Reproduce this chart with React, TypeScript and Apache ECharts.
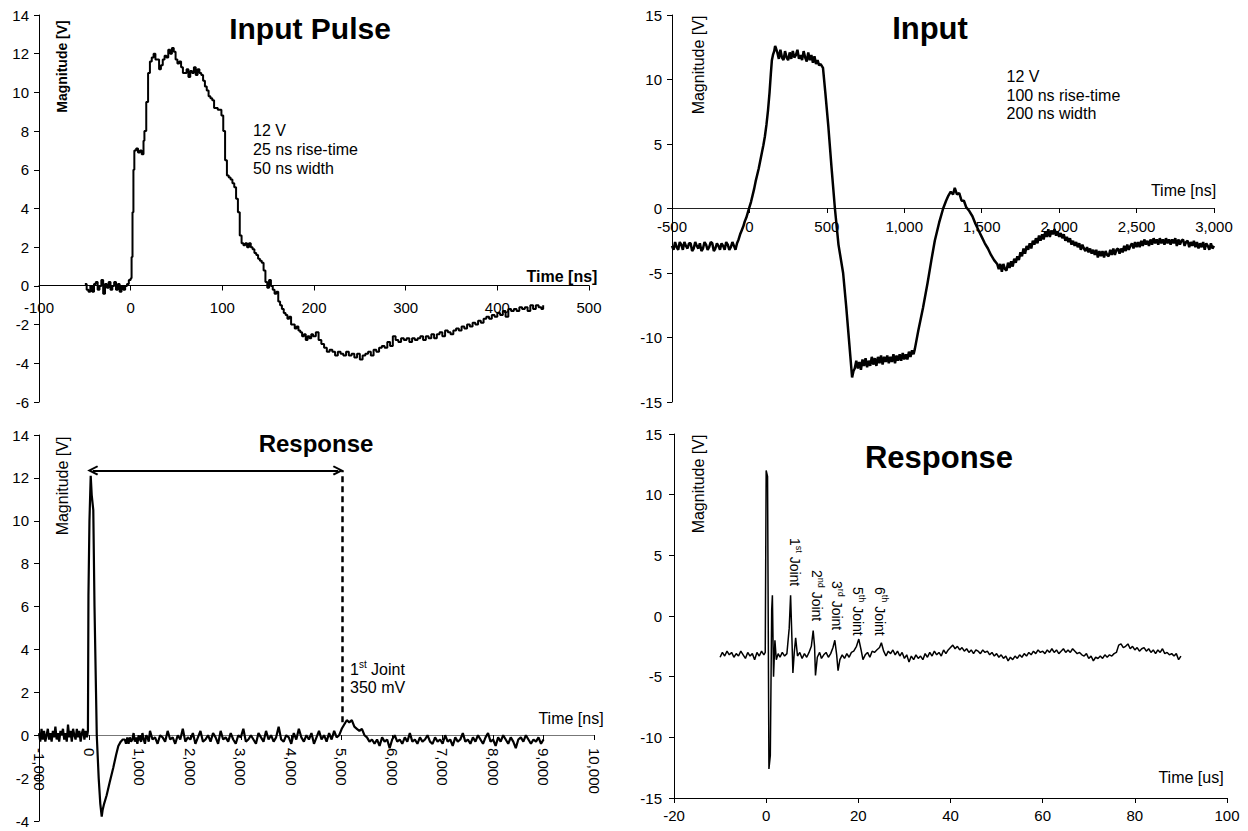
import React, { useEffect, useRef } from "react";
import * as echarts from "echarts";

const FONT = "'Liberation Sans', Arial, Helvetica, sans-serif";

// ---------- Panel 1: Input Pulse (ns, V) ----------
const pulseData: [number, number][] = [
  [-50, 0.1], [-48, -0.2], [-46, -0.3], [-44, 0.0], [-42, -0.3], [-40, 0.1], [-38, 0.2], [-36, -0.2], [-34, 0.0], [-32, 0.3],
  [-30, -0.4], [-28, 0.1], [-26, -0.1], [-24, 0.2], [-22, -0.2], [-20, 0.0], [-18, 0.2], [-16, -0.2], [-14, 0.1], [-12, -0.3],
  [-10, 0.0], [-8, -0.2], [-6, 0.0], [-4, 0.1], [-2, 0.3], [0, 0.4], [1, 1.5], [2, 3.8], [3, 6.0], [4, 7.0], [6, 7.1], [8, 6.9],
  [10, 7.0], [12, 6.8], [14, 7.5], [15, 8.0], [17, 9.5], [19, 11.0], [21, 11.6], [23, 11.8], [25, 12.0], [27, 11.7], [29, 11.7],
  [31, 11.2], [33, 11.4], [35, 11.7], [37, 11.9], [39, 11.8], [41, 12.2], [43, 12.0], [45, 12.3], [47, 12.1], [49, 11.7],
  [51, 11.5], [53, 11.6], [55, 11.3], [57, 11.0], [59, 11.0], [61, 11.2], [63, 10.8], [65, 11.1], [67, 11.0], [69, 11.3],
  [71, 10.9], [73, 11.2], [75, 11.0], [77, 10.9], [79, 10.6], [81, 10.3], [83, 10.1], [85, 9.8], [87, 9.7], [89, 9.6],
  [91, 9.2], [93, 9.2], [95, 9.1], [97, 9.1], [99, 8.8], [101, 8.0], [103, 6.5], [105, 5.7], [107, 5.6], [109, 5.5],
  [111, 5.3], [113, 5.1], [115, 4.5], [117, 3.8], [119, 2.6], [121, 2.2], [123, 2.1], [125, 2.2], [127, 2.0], [129, 2.2],
  [131, 2.0], [133, 1.9], [135, 1.7], [137, 1.6], [139, 1.4], [141, 1.3], [143, 1.2], [145, 0.8], [147, 0.2], [149, -0.1],
  [151, 0.3], [153, 0.0], [155, -0.2], [157, -0.4], [159, -0.3], [161, -0.8], [163, -1.0], [165, -1.2], [167, -1.4],
  [169, -1.5], [171, -1.7], [173, -1.6], [175, -2.0], [177, -2.0], [179, -2.2], [181, -2.1], [183, -2.3], [185, -2.4],
  [187, -2.6], [189, -2.5], [191, -2.8], [193, -2.6], [195, -2.7], [197, -2.5], [199, -2.6], [202, -2.4], [205, -2.8],
  [208, -3.0], [211, -3.2], [214, -3.4], [217, -3.3], [220, -3.4], [223, -3.6], [226, -3.4], [229, -3.5], [232, -3.6],
  [235, -3.4], [238, -3.6], [241, -3.5], [244, -3.7], [247, -3.5], [250, -3.8], [253, -3.6], [256, -3.5], [259, -3.4],
  [262, -3.6], [265, -3.3], [268, -3.4], [271, -3.2], [274, -3.1], [277, -3.2], [280, -2.9], [283, -3.1], [286, -2.6],
  [289, -2.8], [292, -2.9], [295, -2.7], [298, -2.8], [301, -2.7], [304, -2.9], [307, -2.7], [310, -2.8], [313, -2.7],
  [316, -2.6], [319, -2.8], [322, -2.6], [325, -2.7], [328, -2.5], [331, -2.7], [334, -2.5], [337, -2.4], [340, -2.6],
  [343, -2.3], [346, -2.4], [349, -2.5], [352, -2.3], [355, -2.2], [358, -2.3], [361, -2.1], [364, -2.2], [367, -2.0],
  [370, -2.1], [373, -1.9], [376, -2.0], [379, -1.8], [382, -1.9], [385, -1.7], [388, -1.6], [391, -1.7], [394, -1.5],
  [397, -1.6], [400, -1.4], [403, -1.5], [406, -1.3], [409, -1.6], [412, -1.2], [415, -1.3], [418, -1.2], [421, -1.3],
  [424, -1.1], [427, -1.2], [430, -1.1], [433, -1.3], [436, -1.0], [439, -1.2], [442, -1.0], [445, -1.1], [448, -1.2], [450, -1.0],
];

// ---------- Panel 2: Input (ns, V) ----------
const inputData: [number, number][] = [
  [-500, -2.9], [-490, -3.2], [-480, -2.6], [-470, -3.0], [-460, -3.2], [-450, -2.6], [-440, -2.8], [-430, -3.2], [-420, -2.6],
  [-410, -2.9], [-400, -3.1], [-390, -2.7], [-380, -2.7], [-370, -3.3], [-360, -3.1], [-350, -2.6], [-340, -2.9], [-330, -3.1],
  [-320, -2.7], [-310, -3.3], [-300, -3.1], [-290, -2.6], [-280, -2.8], [-270, -3.2], [-260, -3.0], [-250, -2.6], [-240, -2.7],
  [-230, -3.3], [-220, -3.1], [-210, -2.7], [-200, -2.9], [-190, -3.2], [-180, -2.7], [-170, -2.9], [-160, -3.2], [-150, -2.6],
  [-140, -2.8], [-130, -3.2], [-120, -3.0], [-110, -2.6], [-100, -2.9], [-90, -3.2], [-80, -2.7], [-70, -2.4], [-60, -2.0],
  [-50, -1.7], [-40, -1.4], [-30, -1.0], [-20, -0.7], [-10, -0.3], [0, 0.1], [10, 0.5], [20, 1.0], [30, 1.5], [40, 2.1],
  [50, 2.6], [60, 3.1], [70, 3.7], [80, 4.3], [90, 4.9], [100, 5.6], [110, 6.5], [120, 7.6], [130, 9.0], [138, 10.4],
  [145, 11.5], [152, 11.9], [160, 12.2], [166, 12.6], [172, 12.4], [180, 12.1], [190, 11.6], [200, 12.3], [210, 11.7],
  [220, 11.5], [230, 12.2], [240, 11.7], [250, 11.5], [260, 12.1], [270, 11.6], [280, 12.2], [290, 11.7], [300, 11.9],
  [310, 12.3], [320, 11.6], [330, 11.9], [340, 11.5], [350, 12.2], [360, 11.7], [370, 11.4], [380, 12.1], [390, 11.5],
  [400, 11.9], [410, 11.3], [420, 11.8], [430, 11.2], [440, 11.5], [450, 11.1], [460, 11.2], [475, 10.9], [490, 9.0],
  [510, 6.3], [530, 3.2], [552, 0.0], [575, -2.8], [605, -5.0], [625, -7.6], [645, -10.5], [663, -13.1], [672, -12.6],
  [680, -12.4], [690, -11.8], [700, -12.4], [710, -11.9], [720, -12.5], [730, -11.7], [740, -12.2], [750, -11.6],
  [760, -12.3], [770, -11.8], [780, -12.2], [790, -11.5], [800, -12.1], [810, -11.6], [820, -12.2], [830, -11.5],
  [840, -12.0], [850, -11.4], [860, -12.1], [870, -11.5], [880, -11.9], [890, -11.4], [900, -12.0], [910, -11.5],
  [920, -11.9], [930, -11.3], [940, -12.0], [950, -11.4], [960, -11.8], [970, -11.3], [980, -11.8], [990, -11.2],
  [1000, -11.7], [1010, -11.3], [1020, -11.7], [1030, -11.1], [1040, -11.5], [1050, -11.0], [1060, -11.3], [1068, -10.9],
  [1090, -9.5], [1121, -7.7], [1150, -5.8], [1175, -4.0], [1197, -2.5], [1225, -1.1], [1251, 0.0], [1270, 0.6],
  [1285, 1.0], [1300, 1.3], [1315, 1.1], [1326, 1.6], [1340, 1.1], [1355, 1.2], [1370, 0.6], [1385, 0.6], [1400, 0.1],
  [1420, -0.2], [1440, -0.6], [1460, -1.2], [1480, -1.7], [1500, -2.2], [1520, -2.7], [1540, -3.1], [1560, -3.6],
  [1580, -4.0], [1600, -4.3], [1610, -4.7], [1620, -4.3], [1630, -4.9], [1640, -4.3], [1650, -4.7], [1660, -4.8],
  [1670, -4.2], [1680, -4.6], [1690, -4.1], [1700, -4.5], [1710, -3.9], [1720, -4.2], [1730, -3.7], [1740, -4.0],
  [1750, -3.4], [1760, -3.7], [1770, -3.1], [1780, -3.5], [1790, -2.9], [1800, -3.2], [1810, -2.7], [1820, -3.1],
  [1830, -2.5], [1840, -2.8], [1850, -2.3], [1860, -2.7], [1870, -2.1], [1880, -2.5], [1890, -2.0], [1900, -2.4],
  [1910, -1.8], [1920, -2.2], [1930, -1.6], [1940, -2.2], [1950, -1.7], [1960, -2.0], [1970, -1.6], [1980, -2.1],
  [1990, -1.8], [2000, -2.2], [2010, -1.9], [2020, -2.3], [2030, -2.0], [2040, -2.5], [2050, -2.2], [2060, -2.6],
  [2070, -2.3], [2080, -2.8], [2090, -2.5], [2100, -2.9], [2110, -2.6], [2120, -3.0], [2130, -2.7], [2140, -3.2],
  [2150, -2.8], [2160, -3.1], [2170, -3.3], [2180, -3.0], [2190, -3.4], [2200, -3.1], [2210, -3.5], [2220, -3.2],
  [2230, -3.6], [2240, -3.2], [2250, -3.8], [2260, -3.3], [2270, -3.7], [2280, -3.3], [2290, -3.8], [2300, -3.3],
  [2310, -3.6], [2320, -3.7], [2330, -3.2], [2340, -3.6], [2350, -3.1], [2360, -3.6], [2370, -3.2], [2380, -3.1],
  [2390, -3.5], [2400, -3.1], [2410, -3.4], [2420, -2.9], [2430, -3.3], [2440, -2.8], [2450, -3.2], [2460, -2.9],
  [2470, -2.7], [2480, -3.1], [2490, -2.6], [2500, -3.0], [2510, -2.6], [2520, -3.0], [2530, -2.5], [2540, -2.9],
  [2550, -2.4], [2560, -2.8], [2570, -2.5], [2580, -2.9], [2590, -2.4], [2600, -2.8], [2610, -2.3], [2620, -2.7],
  [2630, -2.4], [2640, -2.8], [2650, -2.3], [2660, -2.7], [2670, -2.4], [2680, -2.8], [2690, -2.3], [2700, -2.7],
  [2710, -2.4], [2720, -2.8], [2730, -2.4], [2740, -2.7], [2750, -2.3], [2760, -2.9], [2770, -2.4], [2780, -2.8],
  [2790, -2.5], [2800, -2.4], [2810, -2.9], [2820, -2.6], [2830, -2.5], [2840, -3.0], [2850, -2.6], [2860, -2.9],
  [2870, -2.5], [2880, -3.0], [2890, -2.6], [2900, -3.1], [2910, -2.7], [2920, -3.0], [2930, -2.6], [2940, -3.2],
  [2950, -2.7], [2960, -2.9], [2970, -3.2], [2980, -2.7], [2990, -3.1], [3000, -2.9],
];

// ---------- Panel 3: Response (ns, V) ----------
const responseNsData: [number, number][] = [
  [-1000, 0.1], [-975, -0.3], [-950, 0.3], [-925, -0.2], [-900, 0.2], [-875, -0.3], [-850, 0.0], [-825, 0.3], [-800, -0.2],
  [-775, 0.1], [-750, -0.3], [-725, 0.2], [-700, -0.1], [-675, 0.4], [-650, -0.2], [-625, 0.1], [-600, -0.3], [-575, 0.2],
  [-550, 0.0], [-525, 0.3], [-500, -0.2], [-475, 0.1], [-450, -0.3], [-425, 0.5], [-400, -0.1], [-375, 0.2], [-350, -0.3],
  [-325, 0.3], [-300, 0.0], [-275, -0.2], [-250, 0.3], [-225, -0.1], [-200, 0.2], [-175, -0.3], [-150, 0.1], [-125, 0.3],
  [-100, -0.2], [-75, 0.2], [-50, -0.1], [-30, 0.2], [-20, 6.5], [0, 10.0], [25, 12.1], [45, 11.2], [76, 10.5], [100, 6.0],
  [130, 2.0], [145, 0.0], [183, -2.0], [215, -3.2], [243, -3.8], [260, -3.5], [290, -3.2], [341, -2.8], [400, -2.2],
  [473, -1.5], [530, -0.9], [572, -0.5], [620, -0.3], [660, -0.2],
  [700, -0.2], [725, -0.4], [750, -0.1], [775, -0.4], [800, -0.1], [825, -0.3], [850, -0.2], [875, 0.1], [900, -0.3], [925, -0.1],
  [950, -0.4], [975, 0.0], [1000, -0.2], [1025, -0.3], [1050, 0.1], [1075, -0.2], [1100, -0.4], [1125, 0.0], [1150, -0.1], [1175, -0.3],
  [1200, 0.2], [1250, -0.2], [1300, -0.1], [1350, -0.4], [1400, 0.0], [1450, -0.1], [1500, -0.3], [1550, 0.2], [1600, -0.2], [1650, -0.1],
  [1700, -0.4], [1750, 0.0], [1800, -0.2], [1850, 0.3], [1900, -0.3], [1950, -0.1], [2000, -0.2], [2050, 0.1], [2100, -0.4], [2150, -0.1],
  [2200, 0.2], [2250, -0.3], [2300, -0.2], [2350, 0.0], [2400, -0.3], [2450, 0.1], [2500, -0.1], [2550, -0.4], [2600, 0.2], [2650, -0.2],
  [2700, -0.1], [2750, -0.3], [2800, 0.1], [2850, -0.2], [2900, -0.4], [2950, 0.0], [3000, -0.1], [3050, 0.3], [3100, -0.3], [3150, -0.2],
  [3200, 0.0], [3250, -0.2], [3300, -0.4], [3350, 0.1], [3400, -0.1], [3450, -0.3], [3500, 0.2], [3550, -0.2], [3600, 0.0], [3650, -0.3],
  [3700, -0.1], [3750, 0.4], [3800, -0.2], [3850, -0.3], [3900, 0.0], [3950, -0.1], [4000, -0.4], [4050, 0.1], [4100, -0.2], [4150, 0.3],
  [4200, -0.1], [4250, -0.3], [4300, 0.0], [4350, -0.2], [4400, 0.1], [4450, -0.4], [4500, -0.1], [4550, 0.2], [4600, -0.2], [4650, 0.0],
  [4700, -0.3], [4750, 0.1], [4800, -0.2], [4850, 0.2], [4900, -0.1], [4950, 0.0],
  [5000, 0.3], [5050, 0.5], [5100, 0.7], [5150, 0.6], [5200, 0.7], [5250, 0.4], [5300, 0.3], [5350, 0.2], [5400, 0.3], [5450, 0.0],
  [5500, -0.1], [5550, -0.3], [5600, -0.2], [5650, -0.4], [5700, -0.2], [5750, -0.5], [5800, -0.1], [5850, -0.3], [5900, -0.2], [5950, -0.6],
  [6000, -0.2], [6050, 0.0], [6100, -0.3], [6150, -0.2], [6200, -0.4], [6250, -0.1], [6300, -0.3], [6350, 0.1], [6400, -0.3], [6450, -0.2],
  [6500, -0.4], [6550, -0.1], [6600, -0.3], [6650, -0.2], [6700, 0.0], [6750, -0.3], [6800, -0.4], [6850, -0.1], [6900, -0.3], [6950, -0.2],
  [7000, -0.4], [7050, 0.0], [7100, -0.3], [7150, -0.2], [7200, -0.5], [7250, -0.1], [7300, -0.3], [7350, -0.2], [7400, 0.1], [7450, -0.3],
  [7500, -0.2], [7550, -0.4], [7600, -0.1], [7650, -0.3], [7700, 0.0], [7750, -0.2], [7800, -0.4], [7850, -0.1], [7900, 0.1], [7950, -0.3],
  [8000, -0.2], [8050, -0.5], [8100, -0.1], [8150, -0.3], [8200, 0.0], [8250, -0.2], [8300, -0.4], [8350, -0.1], [8400, -0.3], [8450, -0.6],
  [8500, -0.2], [8550, -0.1], [8600, -0.3], [8650, 0.0], [8700, -0.2], [8750, -0.4], [8800, -0.2], [8850, -0.3], [8900, -0.1], [8950, -0.4], [9000, -0.2],
];

// annotation anchors for panel 3 (ns, V)
const spanArrow: [number, number][] = [[64, 12.35], [4932, 12.35]];
const jointMarker: [number, number][] = [[5012, 0.6], [5012, 12.35]];

// ---------- Panel 4: Response (us, V) ----------
const responseUsData: [number, number][] = [
  [-10, -3.4], [-9.5, -3.0], [-9, -3.3], [-8.5, -2.9], [-8, -3.2], [-7.5, -3.0], [-7, -3.4], [-6.5, -3.1], [-6, -3.3],
  [-5.5, -2.9], [-5, -3.2], [-4.5, -3.5], [-4, -3.0], [-3.5, -3.3], [-3, -3.1], [-2.5, -3.6], [-2, -3.0], [-1.5, -3.3],
  [-1, -2.9], [-0.5, -3.2], [-0.2, -3.0], [0, 12.0], [0.3, 11.5], [0.6, -12.6], [0.9, -11.5], [1.2, 0.5], [1.35, 1.7],
  [1.6, -5.0], [1.9, -2.0], [2.2, -3.6], [2.6, -3.1], [3, -3.4], [3.5, -3.0], [4, -3.3], [4.5, -3.1], [5, -1.0], [5.3, 1.7],
  [5.6, -2.0], [5.8, -4.7], [6.1, -3.0], [6.4, -1.8], [6.8, -3.3], [7.3, -3.0], [7.8, -3.5], [8.3, -3.1], [8.8, -3.4],
  [9.3, -3.0], [9.8, -2.5], [10.2, -1.2], [10.5, -2.5], [10.7, -4.9], [11.1, -3.4], [11.6, -3.0], [12, -3.5], [12.5, -3.2],
  [13, -3.0], [13.5, -3.4], [14, -3.1], [14.5, -2.6], [14.9, -2.0], [15.3, -3.2], [15.6, -4.5], [16, -3.6], [16.5, -3.2],
  [17, -3.5], [17.5, -3.1], [18, -3.4], [18.5, -3.0], [19, -2.9], [19.6, -2.5], [20.1, -1.9], [20.6, -2.8], [21, -3.6],
  [21.5, -3.2], [22, -3.0], [22.5, -3.4], [23, -2.9], [23.5, -3.0], [24, -2.8], [24.6, -2.6], [25, -2.2], [25.5, -2.9],
  [26, -3.3], [26.5, -2.9], [27, -3.1], [27.5, -2.8], [28, -3.2], [28.5, -2.9], [29, -3.3], [29.5, -3.0], [30, -3.5],
  [30.5, -3.2], [31, -3.8], [31.5, -3.3], [32, -3.6], [32.5, -3.2], [33, -3.5], [33.5, -3.3], [34, -3.6], [34.5, -3.1],
  [35, -3.4], [35.5, -3.0], [36, -3.3], [36.5, -2.9], [37, -3.2], [37.5, -3.0], [38, -3.3], [38.5, -2.8], [39, -3.1],
  [39.5, -2.8], [40, -2.6], [40.5, -2.4], [41, -2.7], [41.5, -2.5], [42, -2.8], [42.5, -2.6], [43, -2.9], [43.5, -2.7],
  [44, -3.0], [44.5, -2.8], [45, -3.1], [45.5, -2.8], [46, -2.9], [46.5, -3.1], [47, -2.8], [47.5, -3.0], [48, -2.9],
  [48.5, -3.2], [49, -3.0], [49.5, -3.3], [50, -3.1], [50.5, -3.4], [51, -3.2], [51.5, -3.5], [52, -3.3], [52.5, -3.7],
  [53, -3.4], [53.5, -3.6], [54, -3.3], [54.5, -3.5], [55, -3.2], [55.5, -3.4], [56, -3.1], [56.5, -3.3], [57, -3.0],
  [57.5, -3.2], [58, -2.9], [58.5, -3.1], [59, -2.8], [59.5, -3.0], [60, -2.9], [60.5, -3.1], [61, -2.8], [61.5, -3.0],
  [62, -2.7], [62.5, -3.0], [63, -2.8], [63.5, -3.1], [64, -2.9], [64.5, -2.7], [65, -3.0], [65.5, -2.8], [66, -3.0],
  [66.5, -2.7], [67, -2.9], [67.5, -3.1], [68, -3.0], [68.5, -3.2], [69, -3.3], [69.5, -3.1], [70, -3.5], [70.5, -3.3],
  [71, -3.7], [71.5, -3.4], [72, -3.5], [72.5, -3.3], [73, -3.5], [73.5, -3.2], [74, -3.4], [74.5, -3.2], [75, -3.3],
  [75.5, -3.1], [76, -3.0], [76.5, -2.4], [77, -2.3], [77.5, -2.6], [78, -2.5], [78.5, -2.3], [79, -2.7], [79.5, -2.5],
  [80, -2.8], [80.5, -2.6], [81, -2.9], [81.5, -2.7], [82, -2.6], [82.5, -2.9], [83, -2.7], [83.5, -3.0], [84, -2.8],
  [84.5, -3.1], [85, -2.8], [85.5, -3.0], [86, -2.7], [86.5, -3.1], [87, -3.0], [87.5, -3.2], [88, -3.1], [88.5, -3.3],
  [89, -3.1], [89.5, -3.6], [90, -3.3],
];

// annotation texts
const pulseNotes = ["12 V", "25 ns rise-time", "50 ns width"];
const inputNotes = ["12 V", "100 ns rise-time", "200 ns width"];
const jointLabels = [
  { n: "1", sup: "st" },
  { n: "2", sup: "nd" },
  { n: "3", sup: "rd" },
  { n: "5", sup: "th" },
  { n: "6", sup: "th" },
];

const thousands = (v: number) => v.toLocaleString("en-US");

function xAxisCfg(grid: number, min: number, max: number, interval: number, o: any) {
  return {
    type: "value",
    gridIndex: grid,
    show: o.show !== false,
    position: "bottom",
    min,
    max,
    interval,
    splitLine: { show: false },
    axisLine: { show: true, onZero: false, lineStyle: { color: o.lineColor || "#000", width: 1 } },
    axisTick: { show: true, inside: false, length: 5, lineStyle: { color: "#000", width: 1 } },
    axisLabel: {
      show: true,
      color: "#000",
      fontSize: 15,
      fontFamily: FONT,
      margin: o.margin,
      rotate: o.rotate || 0,
      showMinLabel: true,
      showMaxLabel: true,
      hideOverlap: false,
      formatter: o.formatter,
    },
  };
}

function yAxisCfg(grid: number, min: number, max: number, interval: number, margin: number, show = true) {
  return {
    type: "value",
    gridIndex: grid,
    show,
    min,
    max,
    interval,
    splitLine: { show: false },
    axisLine: { show: true, onZero: false, lineStyle: { color: "#000", width: 1 } },
    axisTick: { show: true, inside: false, length: 5, lineStyle: { color: "#000", width: 1 } },
    axisLabel: { show: true, color: "#000", fontSize: 15, fontFamily: FONT, margin, showMinLabel: true, showMaxLabel: true },
  };
}

function txt(text: string, x: number, y: number, size: number, bold: boolean, align = "center", rotation = 0, extra: any = {}) {
  return {
    type: "text",
    x,
    y,
    rotation,
    silent: true,
    z: 100,
    style: {
      text,
      fontSize: size,
      fontWeight: bold ? "bold" : "normal",
      fontFamily: FONT,
      fill: "#000",
      align,
      textAlign: align,
      verticalAlign: "middle",
      textVerticalAlign: "middle",
      ...extra,
    },
  };
}

export default function App() {
  const ref = useRef<HTMLDivElement>(null);

  useEffect(() => {
    if (!ref.current) return;
    const chart = echarts.init(ref.current, null, { renderer: "svg" });

    const arrowHead = "path://M5,0L10,9L8.4,10L5,3.8L1.6,10L0,9Z";

    const jointPos = [
      { x: 795.5, y: 538 },
      { x: 817.5, y: 570 },
      { x: 837.5, y: 581 },
      { x: 858.5, y: 587 },
      { x: 881, y: 587 },
    ];

    const graphics: any[] = [
      txt("Input Pulse", 310, 28, 30, true),
      txt("Input", 930, 28, 31, true),
      txt("Response", 316, 443, 24, true),
      txt("Response", 939, 457, 31, true),
      txt("Time [ns]", 562, 276, 16, true),
      txt("Time [ns]", 1183.5, 190.5, 16, false),
      txt("Time [ns]", 571, 718, 16, false),
      txt("Time [us]", 1191, 777, 16, false),
      txt("Magnitude [V]", 61.5, 66.5, 14, true, "center", Math.PI / 2),
      txt("Magnitude [V]", 698, 65, 16, false, "center", Math.PI / 2),
      txt("Magnitude [V]", 62.5, 486, 16, false, "center", Math.PI / 2),
      txt("Magnitude [V]", 698, 484, 16, false, "center", Math.PI / 2),
      ...pulseNotes.map((s, i) => txt(s, 253, 130 + i * 19, 16, false, "left")),
      ...inputNotes.map((s, i) => txt(s, 1006.5, 76.5 + i * 18.5, 16, false, "left")),
      txt("{m|1}{s|st}{m| Joint}", 350, 668, 16, false, "left", 0, {
        rich: {
          m: { fontSize: 16, fontFamily: FONT, fill: "#000", lineHeight: 18, verticalAlign: "bottom" },
          s: { fontSize: 10, fontFamily: FONT, fill: "#000", lineHeight: 10, verticalAlign: "top" },
        },
      }),
      txt("350 mV", 350, 687, 16, false, "left"),
      ...jointLabels.map((j, i) =>
        txt(`{m|${j.n}}{s|${j.sup}}{m| Joint}`, jointPos[i].x, jointPos[i].y, 14, false, "left", -Math.PI / 2, {
          rich: {
            m: { fontSize: 14, fontFamily: FONT, fill: "#000", lineHeight: 16, verticalAlign: "bottom" },
            s: { fontSize: 9, fontFamily: FONT, fill: "#000", lineHeight: 9, verticalAlign: "top" },
          },
        })
      ),
    ];

    const gridBase = { outerBoundsMode: "none", containLabel: false };

    const option: any = {
      animation: false,
      backgroundColor: "#fff",
      textStyle: { fontFamily: FONT, color: "#000" },
      grid: [
        // data grids
        { ...gridBase, left: 39, top: 15, width: 550, height: 387 },
        { ...gridBase, left: 672, top: 15, width: 542, height: 387 },
        { ...gridBase, left: 39, top: 435, width: 555, height: 386 },
        { ...gridBase, left: 674, top: 434, width: 553, height: 364 },
        // axis overlays whose bottom edge sits on the zero line
        { ...gridBase, left: 39, top: 15, width: 550, height: 270.5 },
        { ...gridBase, left: 672, top: 15, width: 542, height: 193 },
        { ...gridBase, left: 39, top: 435, width: 555, height: 300 },
      ],
      xAxis: [
        xAxisCfg(0, -100, 500, 100, { show: false, margin: 14 }),
        xAxisCfg(1, -500, 3000, 500, { show: false, margin: 11 }),
        xAxisCfg(2, -1000, 10000, 1000, { show: false, margin: 13 }),
        xAxisCfg(3, -20, 100, 20, { margin: 10 }),
        xAxisCfg(4, -100, 500, 100, { margin: 14 }),
        xAxisCfg(5, -500, 3000, 500, { margin: 11, formatter: thousands, lineColor: "#222" }),
        xAxisCfg(6, -1000, 10000, 1000, { margin: 13, rotate: -90, formatter: thousands, lineColor: "#777" }),
      ],
      yAxis: [
        yAxisCfg(0, -6, 14, 2, 10),
        yAxisCfg(1, -15, 15, 5, 10),
        yAxisCfg(2, -4, 14, 2, 10),
        yAxisCfg(3, -15, 15, 5, 12),
        yAxisCfg(4, 0, 1, 1, 10, false),
        yAxisCfg(5, 0, 1, 1, 10, false),
        yAxisCfg(6, 0, 1, 1, 10, false),
      ],
      series: [
        {
          type: "line",
          xAxisIndex: 0,
          yAxisIndex: 0,
          data: pulseData,
          step: "end",
          showSymbol: false,
          lineStyle: { color: "#000", width: 2 },
          silent: true,
          z: 5,
        },
        {
          type: "line",
          xAxisIndex: 1,
          yAxisIndex: 1,
          data: inputData,
          showSymbol: false,
          lineStyle: { color: "#000", width: 2.5 },
          silent: true,
          z: 5,
        },
        {
          type: "line",
          xAxisIndex: 2,
          yAxisIndex: 2,
          data: responseNsData,
          showSymbol: false,
          lineStyle: { color: "#000", width: 2.2 },
          silent: true,
          z: 5,
          markLine: {
            silent: true,
            animation: false,
            label: { show: false },
            emphasis: { disabled: true },
            data: [
              [
                { coord: spanArrow[0], symbol: arrowHead, symbolSize: [10, 11] },
                { coord: spanArrow[1], symbol: arrowHead, symbolSize: [10, 11] },
              ],
              [
                { coord: jointMarker[0], symbol: "none", lineStyle: { type: [6, 4], width: 2.5, color: "#000" } },
                { coord: jointMarker[1], symbol: "none" },
              ],
            ],
            lineStyle: { color: "#000", width: 2, type: "solid" },
          },
        },
        {
          type: "line",
          xAxisIndex: 3,
          yAxisIndex: 3,
          data: responseUsData,
          showSymbol: false,
          lineStyle: { color: "#000", width: 1.5 },
          silent: true,
          z: 5,
        },
      ],
      graphic: graphics,
    };

    chart.setOption(option);
    return () => chart.dispose();
  }, []);

  return (
    <div
      ref={ref}
      style={{ position: "fixed", left: 0, top: 0, width: 1248, height: 831, background: "#fff" }}
    />
  );
}
